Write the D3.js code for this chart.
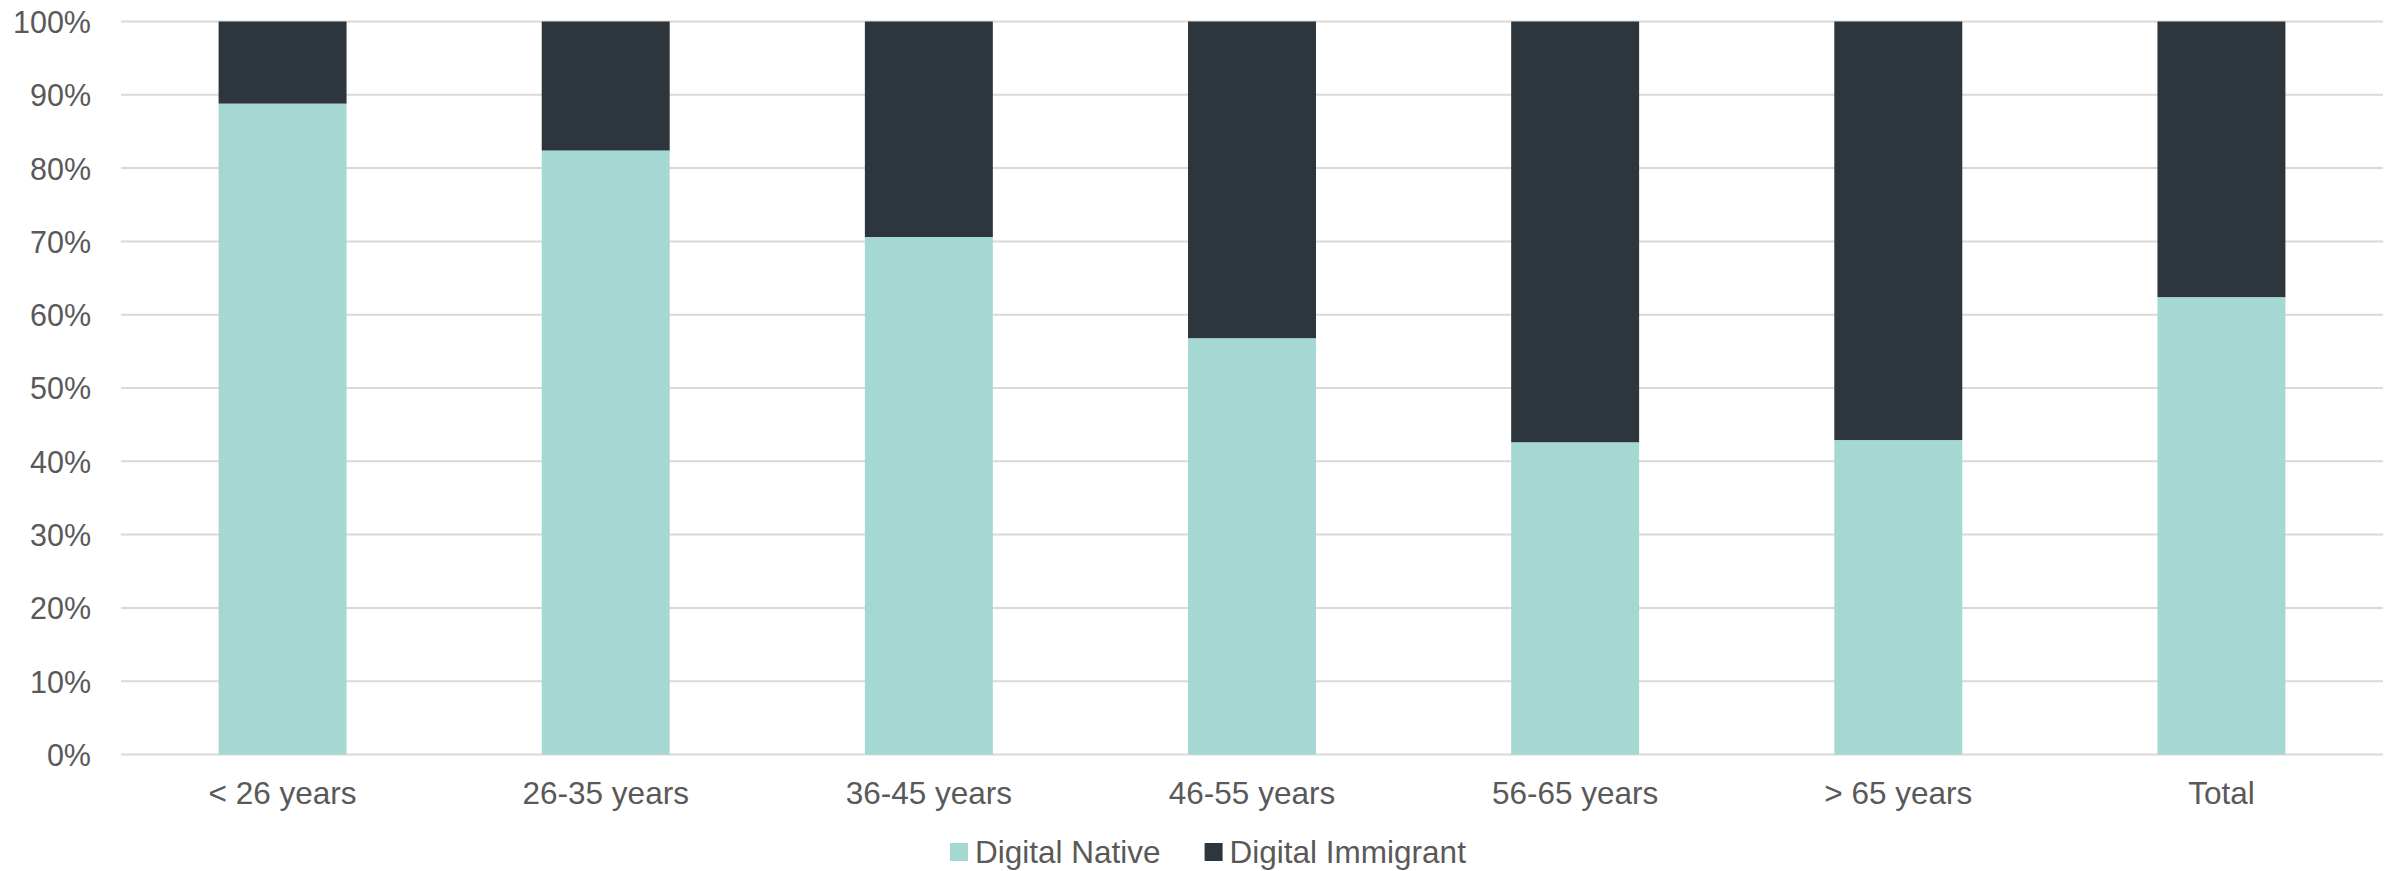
<!DOCTYPE html>
<html><head><meta charset="utf-8">
<script src="https://cdn.jsdelivr.net/npm/d3@7"></script>
<style>html,body{margin:0;padding:0;background:#fff;}svg{display:block;}</style>
</head><body>
<svg id="chart" width="2405" height="871"></svg>
<script>
const categories = ["< 26 years", "26-35 years", "36-45 years", "46-55 years", "56-65 years", "> 65 years", "Total"];
const digitalNative = [88.8, 82.4, 70.6, 56.8, 42.6, 42.9, 62.4];
const digitalImmigrant = [11.2, 17.6, 29.4, 43.2, 57.4, 57.1, 37.6];
const seriesNames = ["Digital Native", "Digital Immigrant"];
const seriesColors = ["#A5D8D3", "#2E363D"];
const yTicks = [0, 10, 20, 30, 40, 50, 60, 70, 80, 90, 100];

const svg = d3.select("#chart");
const W = 2405, H = 871;
const m = {left: 121, right: 22, top: 21.5, bottom: 116.5};
const font = "'Liberation Sans', Arial, sans-serif";
const textColor = "#595959";

const x = d3.scaleBand().domain(categories).range([m.left, W - m.right]).paddingInner(0.604).paddingOuter(0.302);
const y = d3.scaleLinear().domain([0, 100]).range([H - m.bottom, m.top]);

// gridlines
svg.append("g").selectAll("line").data(yTicks).join("line")
  .attr("x1", m.left).attr("x2", W - m.right)
  .attr("y1", d => y(d)).attr("y2", d => y(d))
  .attr("stroke", "#D9D9D9").attr("stroke-width", 2);

// stacked bars
const rows = categories.map((c, i) => ({cat: c, "Digital Native": digitalNative[i], "Digital Immigrant": digitalImmigrant[i]}));
const stack = d3.stack().keys(seriesNames)(rows);
svg.append("g").selectAll("g").data(stack).join("g")
  .attr("fill", (d, i) => seriesColors[i])
  .selectAll("rect").data(d => d).join("rect")
  .attr("x", d => x(d.data.cat))
  .attr("width", x.bandwidth())
  .attr("y", d => y(Math.min(d[1], 100)))
  .attr("height", d => y(d[0]) - y(Math.min(d[1], 100)));

// y axis labels
const yAxis = d3.axisLeft(y).tickValues(yTicks).tickFormat(d => d + "%").tickSize(0).tickPadding(0);
const gy = svg.append("g").attr("transform", `translate(91,0)`).call(yAxis);
gy.select(".domain").remove();
gy.selectAll("text").attr("font-family", font).attr("font-size", 30.5).attr("fill", textColor).attr("dy", "0.36em");

// x axis labels
const xAxis = d3.axisBottom(x).tickSize(0).tickPadding(0);
const gx = svg.append("g").attr("transform", `translate(0,${H - m.bottom})`).call(xAxis);
gx.select(".domain").remove();
gx.selectAll("text").attr("font-family", font).attr("font-size", 31.5).attr("fill", textColor).attr("dy", 0).attr("y", 49);

// legend
const legend = svg.append("g");
const items = legend.selectAll("g").data(seriesNames).join("g");
items.append("rect").attr("width", 18).attr("height", 18).attr("y", -20).attr("fill", (d, i) => seriesColors[i]);
items.append("text").attr("x", 25).attr("y", 0).text(d => d)
  .attr("font-family", font).attr("font-size", 31.5).attr("fill", textColor);
let offset = 0;
items.each(function() {
  d3.select(this).attr("transform", `translate(${offset},0)`);
  offset += this.getBBox().width + 44;
});
legend.attr("transform", `translate(950,863)`);
</script>
</body></html>
